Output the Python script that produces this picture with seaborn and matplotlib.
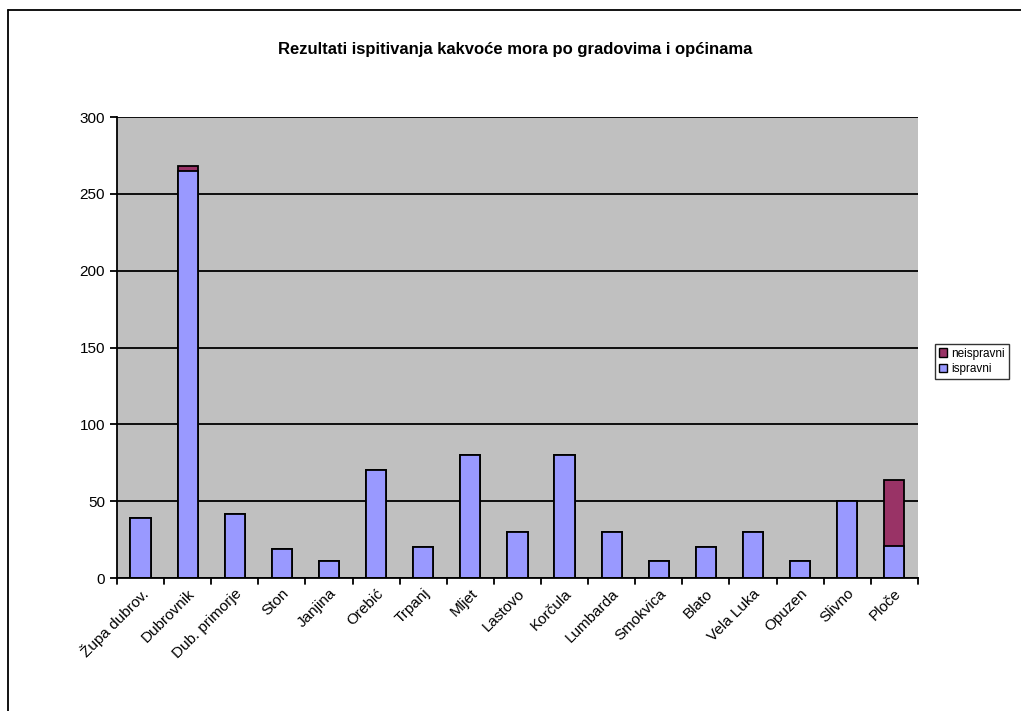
import numpy as np
import pandas as pd
import matplotlib
matplotlib.use("Agg")
import matplotlib.pyplot as plt
import seaborn as sns
from matplotlib.patches import Patch
from matplotlib.lines import Line2D

gradovi = ['Župa dubrov.', 'Dubrovnik', 'Dub. primorje', 'Ston', 'Janjina', 'Orebić',
           'Trpanj', 'Mljet', 'Lastovo', 'Korčula', 'Lumbarda', 'Smokvica', 'Blato',
           'Vela Luka', 'Opuzen', 'Slivno', 'Ploče']
ispravni = [39, 265, 42, 19, 11, 70, 20, 80, 30, 80, 30, 11, 20, 30, 11, 50, 21]
neispravni = [0, 3, 0, 0, 0, 0, 0, 0, 0, 0, 0, 0, 0, 0, 0, 0, 43]

df = pd.DataFrame({'grad': gradovi, 'ispravni': ispravni, 'neispravni': neispravni})
df['ukupno'] = df['ispravni'] + df['neispravni']

sns.set_theme(style='white')
plt.rcParams['font.family'] = ['Liberation Sans', 'DejaVu Sans']
plt.rcParams['text.color'] = 'black'
plt.rcParams['xtick.color'] = 'black'
plt.rcParams['ytick.color'] = 'black'

fig = plt.figure(figsize=(10.21, 7.11), dpi=100)
ax = fig.add_axes([0.1146, 0.187, 0.7844, 0.6484])
ax.set_facecolor('#C0C0C0')

# stacked: total in dark colour, good ones on top of it
sns.barplot(data=df, x='grad', y='ukupno', color='#993366', saturation=1,
            width=0.43, edgecolor='black', linewidth=1.3, ax=ax)
sns.barplot(data=df, x='grad', y='ispravni', color='#9999FF', saturation=1,
            width=0.43, edgecolor='black', linewidth=1.3, ax=ax)

ax.set_ylim(0, 300)
ax.set_xlim(-0.5, len(gradovi) - 0.5)
ax.set_yticks(np.arange(0, 301, 50))
ax.yaxis.grid(True, color='black', linewidth=1.3)
ax.set_axisbelow(True)
ax.set_xlabel('')
ax.set_ylabel('')

# excel style ticks between categories
ax.set_xticks(np.arange(len(gradovi)) + 0.0)
ax.set_xticklabels(gradovi, rotation=45, ha='right', rotation_mode='anchor', fontsize=11)
ax.tick_params(axis='x', length=0, pad=6)
for xb in np.arange(-0.5, len(gradovi), 1.0):
    ax.plot([xb, xb], [0, -0.012], transform=ax.get_xaxis_transform(),
            color='black', lw=1.3, clip_on=False)
ax.tick_params(axis='y', length=5, width=1.3, color='black', labelsize=11, left=True, direction='out')

for s in ['top', 'right']:
    ax.spines[s].set_visible(False)
for s in ['left', 'bottom']:
    ax.spines[s].set_color('black')
    ax.spines[s].set_linewidth(1.3)

fig.text(0.505, 0.93, 'Rezultati ispitivanja kakvoće mora po gradovima i općinama',
         ha='center', va='center', fontsize=12, fontweight='bold')

handles = [Patch(facecolor='#993366', edgecolor='black', label='neispravni'),
           Patch(facecolor='#9999FF', edgecolor='black', label='ispravni')]
leg = fig.legend(handles=handles, loc='upper left', bbox_to_anchor=(0.91, 0.525),
                 fontsize=8.5, frameon=True, fancybox=False, handlelength=0.7,
                 handleheight=0.7, handletextpad=0.3, borderpad=0.35, labelspacing=0.3)
leg.get_frame().set_edgecolor('black')
leg.get_frame().set_linewidth(1.0)

# outer chart border (only left and top visible in the crop)
fig.add_artist(Line2D([8 / 1021, 8 / 1021], [0, 1 - 10 / 711], transform=fig.transFigure,
                      color='black', lw=1.3))
fig.add_artist(Line2D([8 / 1021, 1], [1 - 10 / 711, 1 - 10 / 711], transform=fig.transFigure,
                      color='black', lw=1.3))

fig.savefig('out.png', dpi=100)
